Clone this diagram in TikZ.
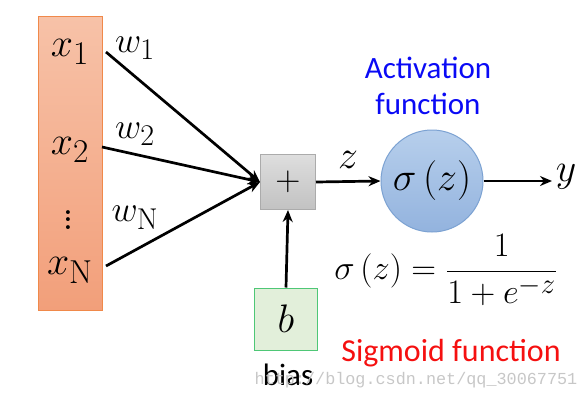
\documentclass[tikz,border=0pt]{standalone}
\usepackage{graphicx}
\usepackage{fontspec}
\newfontfamily\calib{Carlito}
\newfontfamily\wmfont{Liberation Mono}
\usetikzlibrary{arrows.meta,shadings}
\newcommand\mth[2]{\scalebox{#1}{\fontsize{24.88}{28}\selectfont$#2$}}
\definecolor{orfill1}{HTML}{F7C2A8}
\definecolor{orfill2}{HTML}{F29F7A}
\definecolor{ordraw}{HTML}{F0894A}
\definecolor{bl1}{HTML}{B7CFEC}
\definecolor{bl2}{HTML}{93B3DE}
\definecolor{bldraw}{HTML}{7CA2D2}
\definecolor{gfill}{HTML}{E2EFDA}
\definecolor{gdraw}{HTML}{4EC776}
\definecolor{actblue}{HTML}{0A0AF5}
\definecolor{sigred}{HTML}{F51010}
\tikzset{
  lbl/.style={inner sep=0pt},
  conn/.style={line width=2.7pt, -{Stealth[length=12pt,width=10pt]}},
}
\begin{document}
\begin{tikzpicture}[x=1pt,y=-1pt]
\useasboundingbox (0,0) rectangle (588,400);
% input column
\shade[top color=orfill1, bottom color=orfill2, draw=ordraw, line width=1pt]
  (38,16) rectangle (102,310);
\node[lbl] (x1) at (70,52) {\mth{1.6}{x_{\mathrm{1}}}};
\node[lbl] (x2) at (70,150) {\mth{1.6}{x_{\mathrm{2}}}};
\node[lbl] (dots) at (68,214) {\mth{1.9}{\vdots}};
\node[lbl] (xN) at (70,270) {\mth{1.6}{x_{\mathrm{N}}}};
\coordinate (s1) at (106,52);
\coordinate (s2) at (102,147);
\coordinate (sN) at (106,266);
% sum node
\node[draw=black!33, top color=black!13, bottom color=black!24, minimum width=55pt, minimum height=55pt, inner sep=0pt, line width=1pt] (sum) at (288,182) {\mth{1.4}{+}};
\draw[conn] (s1) -- (sum.west);
\draw[conn] (s2) -- (sum.west);
\draw[conn] (sN) -- (sum.west);
\node[lbl] (w1) at (135,48) {\mth{1.45}{w_{\mathrm{1}}}};
\node[lbl] (w2) at (135,134) {\mth{1.45}{w_{\mathrm{2}}}};
\node[lbl] (wN) at (135,218) {\mth{1.45}{w_{\mathrm{N}}}};
% activation
\node[circle, draw=bldraw, top color=bl1, bottom color=bl2, minimum size=102pt, inner sep=0pt, line width=1pt] (act) at (432,181) {\mth{1.6}{\sigma\left(z\right)}};
\draw[conn] (sum.east) -- (act.west);
\node[lbl] (z) at (348,160) {\mth{1.6}{z}};
\node[lbl] (y) at (566,177) {\mth{1.6}{y}};
\coordinate (yend) at (552,181);
\draw[conn] (act.east) -- (yend);
\node[text=actblue, font=\calib\fontsize{31}{36}\selectfont, align=center, inner sep=0pt] (acttxt) at (428,86)
  {Activation\\function};
% bias
\node[draw=gdraw, fill=gfill, minimum width=63pt, minimum height=62pt, inner sep=0pt, line width=1pt] (b) at (286,319) {\mth{1.6}{b}};
\draw[conn] (b.north) -- (sum.south);
\node[font=\calib\fontsize{31}{34}\selectfont, inner sep=0pt] (bias) at (288,375) {bias};
% formula
\node[lbl] (formula) at (446,270)
  {\mth{1.38}{\displaystyle\sigma\left(z\right)=\frac{1}{1+e^{-z}}}};
\node[font=\calib\fontsize{32}{36}\selectfont, text=sigred, inner sep=0pt] (sig) at (451,353) {Sigmoid function};
% watermark
\node[font=\wmfont\fontsize{16.8}{18}\selectfont, text=black!22, inner sep=0pt] (wm) at (416,380) {http://blog.csdn.net/qq\_30067751};
\end{tikzpicture}
\end{document}
